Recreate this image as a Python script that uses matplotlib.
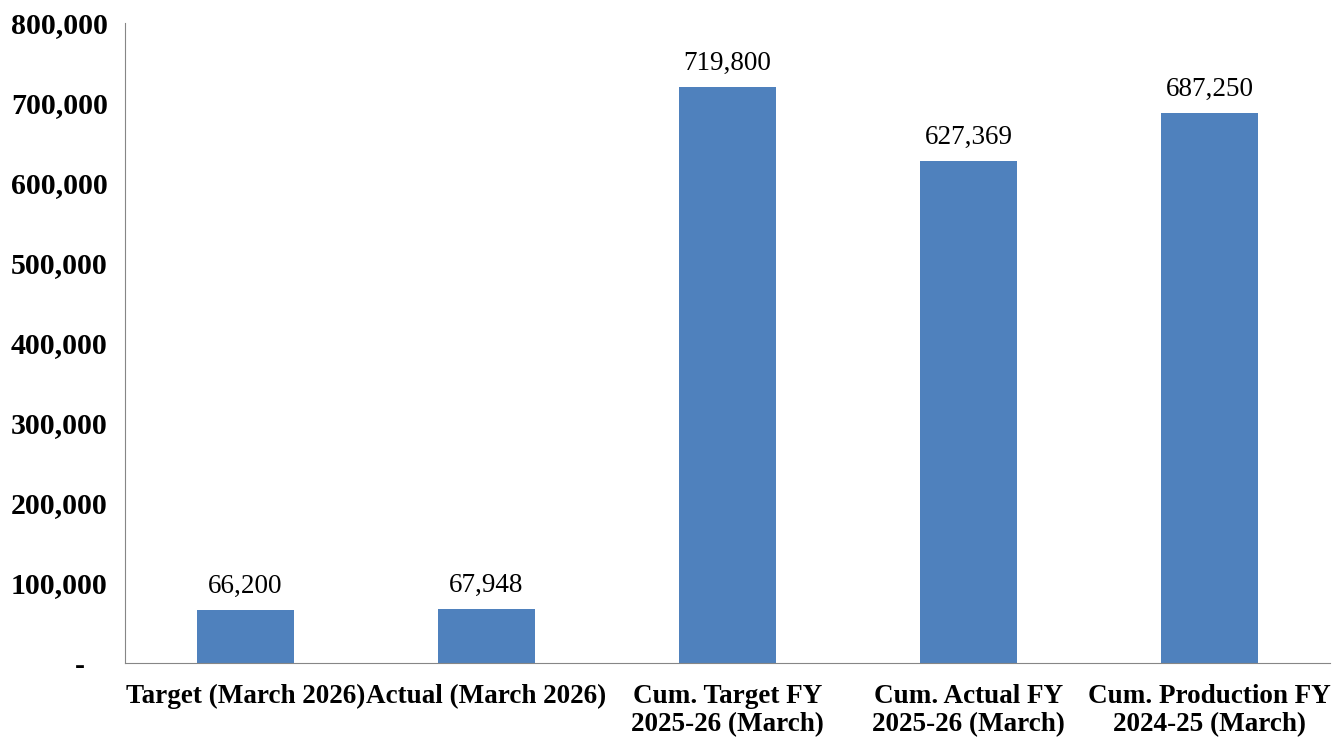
import matplotlib.pyplot as plt
from matplotlib.ticker import FuncFormatter

categories = ["Target (March 2026)", "Actual (March 2026)",
              "Cum. Target FY\n2025-26 (March)", "Cum. Actual FY\n2025-26 (March)",
              "Cum. Production FY\n2024-25 (March)"]
values = [66200, 67948, 719800, 627369, 687250]

plt.rcParams['font.family'] = ['Liberation Serif', 'DejaVu Serif']

fig = plt.figure(figsize=(13.38, 7.40), dpi=100)
ax = fig.add_axes([125/1338, 1 - 663/740, 1205/1338, 640/740])

x = range(len(values))
bars = ax.bar(x, values, width=0.4, color='#4F81BD')
for xi, v in zip(x, values):
    ax.text(xi, v + 14000, f"{v:,}", ha='center', va='bottom', fontsize=19.5)

ax.set_xlim(-0.5, 4.5)
ax.set_ylim(0, 800000)
ax.set_yticks(range(0, 800001, 100000))
ax.yaxis.set_major_formatter(FuncFormatter(lambda v, p: "-   " if v == 0 else f"{int(v):,}"))
ax.set_xticks(list(x))
ax.set_xticklabels(categories, fontweight='bold', fontsize=19.5, linespacing=1.15)
for lab in ax.get_yticklabels():
    lab.set_fontweight('bold')
    lab.set_fontsize(21.5)
ax.tick_params(axis='x', length=0, pad=15)
ax.tick_params(axis='y', length=0, pad=12.5)
for s in ['top', 'right']:
    ax.spines[s].set_visible(False)
for s in ['left', 'bottom']:
    ax.spines[s].set_color('#868686')

fig.savefig('out.png', dpi=100)
